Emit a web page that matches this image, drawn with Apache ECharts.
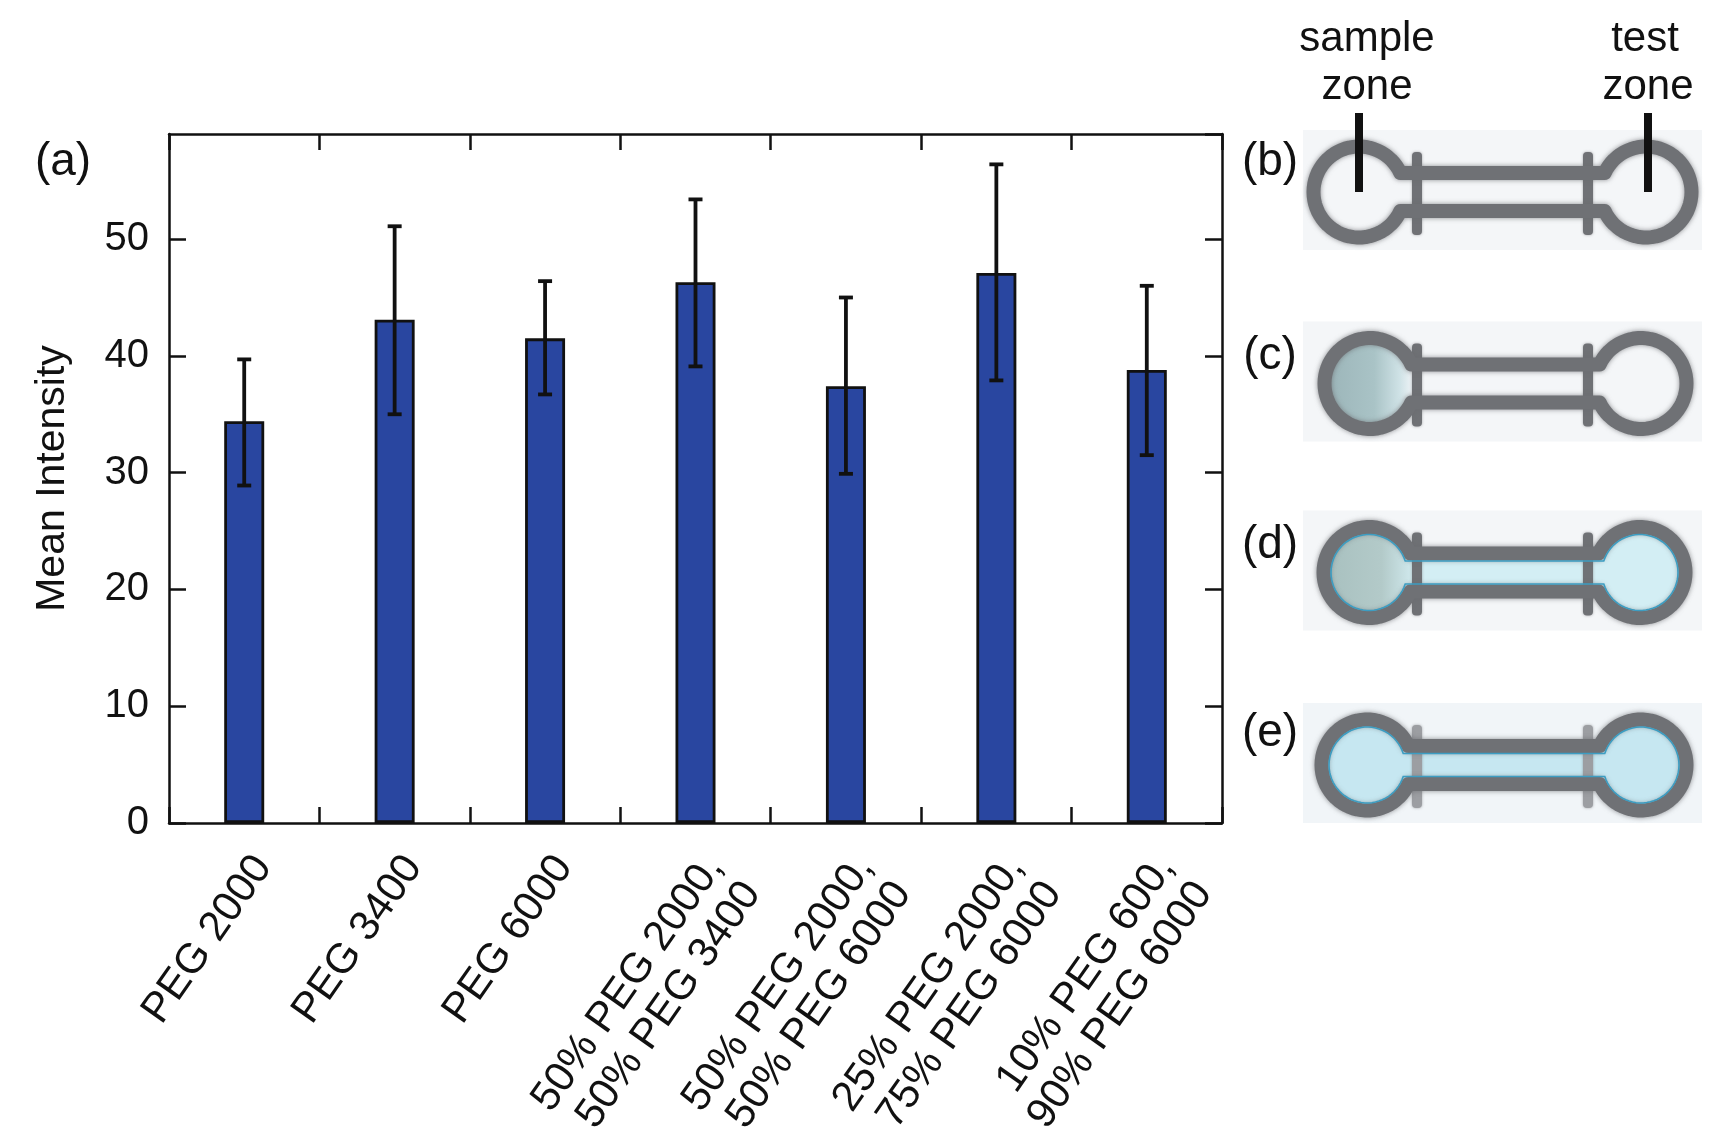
<!doctype html>
<html>
<head>
<meta charset="utf-8">
<title>Mean Intensity - PEG</title>
<style>
  html, body { margin: 0; padding: 0; background: #fff; }
  #main { width: 1710px; height: 1143px; }
</style>
</head>
<body>
<div id="main"></div>
<script src="https://cdn.jsdelivr.net/npm/echarts@6/dist/echarts.min.js"></script>
<script>

var categories = [
    'PEG 2000',
    'PEG 3400',
    'PEG 6000',
    '50% PEG 2000,\n50% PEG 3400',
    '50% PEG 2000,\n50% PEG 6000',
    '25% PEG 2000,\n75% PEG 6000',
    '10% PEG 600,\n90% PEG 6000'
];
var means   = [34.4, 43.1, 41.5, 46.3, 37.4, 47.1, 38.8];
var errLow  = [28.9, 35.0, 36.7, 39.1, 29.9, 37.9, 31.5];
var errHigh = [39.7, 51.1, 46.4, 53.4, 45.0, 56.4, 46.0];

var yTicks = [0, 10, 20, 30, 40, 50];

var panelLabels = ['(b)', '(c)', '(d)', '(e)'];

var FONT = '"Liberation Sans", Arial, Helvetica, sans-serif';
var GRAY = '#6f7175';

var myChart = echarts.init(document.getElementById('main'));

var errData = means.map(function (m, i) {
    return [i, errLow[i], errHigh[i]];
});

// outline of a dumbbell: two circles joined by a straight channel
function dumbbell(xL, xR, cy, r, h) {
    var a0 = Math.asin(h / r), n = 60, pts = [], t, i;
    for (i = 0; i <= n; i++) {
        t = a0 + (2 * Math.PI - 2 * a0) * i / n;
        pts.push([xL + r * Math.cos(t), cy - r * Math.sin(t)]);
    }
    for (i = 0; i <= n; i++) {
        t = Math.PI + a0 + (2 * Math.PI - 2 * a0) * i / n;
        pts.push([xR + r * Math.cos(t), cy - r * Math.sin(t)]);
    }
    return pts;
}

var devices = [
    { cy: 192,   xL: 1359, xR: 1646, kind: 'empty' },
    { cy: 383.5, xL: 1370, xR: 1641, kind: 'sample' },
    { cy: 572.5, xL: 1369, xR: 1640, kind: 'half' },
    { cy: 765,   xL: 1367, xR: 1641, kind: 'full' }
];
var labelY = [162.5, 356, 545, 733];

var R = 45.5, H = 19, RING = 14;
var graphics = [];

devices.forEach(function (d, k) {
    graphics.push({
        type: 'rect', z: 1,
        shape: { x: 1303, y: d.cy - 62, width: 399, height: 120 },
        style: { fill: k === 3 ? '#f1f5f8' : '#f4f6f8' }
    });
    if (d.kind === 'half' || d.kind === 'full') {
        graphics.push({
            type: 'polygon', z: 2,
            shape: { points: dumbbell(d.xL, d.xR, d.cy, R, H) },
            style: { fill: d.kind === 'full' ? '#c6e7f1' : '#d3eef4', stroke: null }
        });
    }
    if (d.kind === 'sample' || d.kind === 'half') {
        graphics.push({
            type: 'circle', z: 3,
            shape: { cx: d.xL, cy: d.cy, r: R - 3 },
            style: {
                fill: new echarts.graphic.LinearGradient(0, 0, 1, 0, d.kind === 'sample' ? [
                    { offset: 0, color: '#9cb5b9' },
                    { offset: 0.55, color: '#a9c3c6' },
                    { offset: 0.85, color: '#cfe2e6' },
                    { offset: 1, color: '#eef3f6' }
                ] : [
                    { offset: 0, color: '#a8c0bf' },
                    { offset: 0.65, color: '#b3cac9' },
                    { offset: 1, color: '#cfe8ec' }
                ])
            }
        });
    }
    var tickColor = d.kind === 'full' ? '#9c9ea2' : GRAY;
    [1417, 1588].forEach(function (tx) {
        graphics.push({
            type: 'rect', z: 4,
            shape: { x: tx - 5, y: d.cy - 40, width: 10, height: 83, r: 4 },
            style: { fill: tickColor, shadowBlur: 3, shadowColor: 'rgba(110,112,116,0.6)' }
        });
    });
    graphics.push({
        type: 'polygon', z: 5,
        shape: { points: dumbbell(d.xL, d.xR, d.cy, R, H) },
        style: {
            fill: null, stroke: GRAY, lineWidth: RING, lineJoin: 'round',
            shadowBlur: 5, shadowColor: 'rgba(105,107,111,0.75)'
        }
    });
    if (d.kind === 'half' || d.kind === 'full') {
        graphics.push({
            type: 'polygon', z: 6,
            shape: { points: dumbbell(d.xL, d.xR, d.cy, R - RING / 2 - 0.5, H - RING / 2 - 0.5) },
            style: { fill: null, stroke: '#3c9dc2', lineWidth: 1.6 }
        });
    }
    graphics.push({
        type: 'text', z: 7,
        style: {
            text: panelLabels[k], x: 1270, y: labelY[k],
            align: 'center', verticalAlign: 'middle',
            font: '46px ' + FONT, fill: '#111'
        }
    });
});

// zone markers
[1359, 1648].forEach(function (mx) {
    graphics.push({
        type: 'rect', z: 8,
        shape: { x: mx - 4, y: 113, width: 8, height: 79 },
        style: { fill: '#111' }
    });
});

[['sample', 1367, 39], ['zone', 1367, 87], ['test', 1645, 39], ['zone', 1648, 87]].forEach(function (t) {
    graphics.push({
        type: 'text', z: 8,
        style: {
            text: t[0], x: t[1], y: t[2],
            align: 'center', verticalAlign: 'middle',
            font: '42px ' + FONT, fill: '#111'
        }
    });
});

graphics.push({
    type: 'text', z: 8,
    style: {
        text: '(a)', x: 63, y: 162,
        align: 'center', verticalAlign: 'middle',
        font: '46px ' + FONT, fill: '#111'
    }
});

var axisLine = { show: true, onZero: false, lineStyle: { color: '#111', width: 2.5 } };

myChart.setOption({
    backgroundColor: '#ffffff',
    animation: false,
    textStyle: { fontFamily: FONT },
    grid: { left: 169, right: 488, top: 134, bottom: 320, containLabel: false, outerBoundsMode: 'none' },
    xAxis: [{
        type: 'category',
        data: categories,
        position: 'bottom',
        boundaryGap: true,
        axisLine: axisLine,
        axisTick: { show: true, inside: true, length: 16, interval: 0, lineStyle: { color: '#111', width: 2.5 } },
        axisLabel: {
            interval: 0, rotate: 55, margin: 24,
            fontSize: 42, lineHeight: 46, color: '#111',
            fontFamily: FONT, align: 'right', verticalAlign: 'top'
        }
    }, {
        type: 'category',
        data: categories,
        position: 'top',
        boundaryGap: true,
        axisLine: axisLine,
        axisTick: { show: true, inside: true, length: 16, interval: 0, lineStyle: { color: '#111', width: 2.5 } },
        axisLabel: { show: false }
    }],
    yAxis: [{
        type: 'value',
        min: 0, max: 59, interval: 10,
        position: 'left',
        name: 'Mean Intensity',
        nameLocation: 'middle',
        nameGap: 96,
        nameTextStyle: { fontSize: 41, color: '#111', fontFamily: FONT },
        axisLine: axisLine,
        axisTick: { show: true, inside: true, length: 17, lineStyle: { color: '#111', width: 2.5 } },
        axisLabel: {
            fontSize: 40, color: '#111', margin: 20, fontFamily: FONT,
            showMaxLabel: false,
            formatter: function (v) { return yTicks.indexOf(v) >= 0 ? String(v) : ''; }
        },
        splitLine: { show: false }
    }, {
        type: 'value',
        min: 0, max: 59, interval: 10,
        position: 'right',
        axisLine: axisLine,
        axisTick: { show: true, inside: true, length: 17, lineStyle: { color: '#111', width: 2.5 } },
        axisLabel: { show: false },
        splitLine: { show: false }
    }],
    series: [{
        type: 'bar',
        data: means,
        barWidth: 40,
        xAxisIndex: 0,
        yAxisIndex: 0,
        itemStyle: { color: '#2946a0', borderColor: '#111', borderWidth: 2.8 },
        z: 2
    }, {
        type: 'custom',
        data: errData,
        xAxisIndex: 0,
        yAxisIndex: 0,
        z: 3,
        renderItem: function (params, api) {
            var lo = api.coord([api.value(0), api.value(1)]);
            var hi = api.coord([api.value(0), api.value(2)]);
            var cap = 7;
            var st = { stroke: '#111', lineWidth: 3.8 };
            return {
                type: 'group',
                children: [
                    { type: 'line', shape: { x1: hi[0], y1: hi[1], x2: lo[0], y2: lo[1] }, style: st },
                    { type: 'line', shape: { x1: hi[0] - cap, y1: hi[1], x2: hi[0] + cap, y2: hi[1] }, style: st },
                    { type: 'line', shape: { x1: lo[0] - cap, y1: lo[1], x2: lo[0] + cap, y2: lo[1] }, style: st }
                ]
            };
        }
    }],
    graphic: { elements: graphics }
});

</script>
</body>
</html>
